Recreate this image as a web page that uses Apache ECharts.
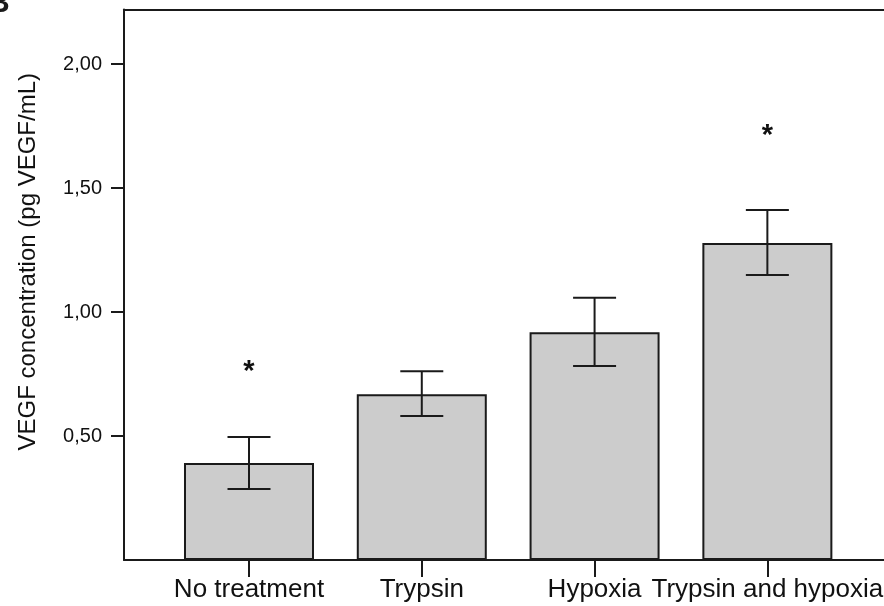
<!DOCTYPE html>
<html>
<head>
<meta charset="utf-8">
<script src="https://cdn.jsdelivr.net/npm/echarts@6/dist/echarts.min.js"></script>
<style>html,body{margin:0;padding:0;background:#fff;}#c{width:884px;height:606px;}</style>
</head>
<body>
<div id="c"></div>
<script>
const categories = ['No treatment', 'Trypsin', 'Hypoxia', 'Trypsin and hypoxia'];
const means = [0.391, 0.668, 0.918, 1.278];
const errLow = [0.286, 0.581, 0.782, 1.149];
const errHigh = [0.496, 0.761, 1.058, 1.411];
const starLevel = [0.779, null, null, 1.730];
const yTicks = [0.5, 1.0, 1.5, 2.0];
const yLabel = 'VEGF concentration (pg VEGF/mL)';

const ink = '#1a1a1a';
const catIdx = categories.map((c, i) => i);
const xMin = -0.7234, xMax = 3.675;

const chart = echarts.init(document.getElementById('c'), null, {renderer: 'canvas'});
chart.setOption({
  animation: false,
  backgroundColor: '#fff',
  title: {
    text: 'B', left: -17, top: -16,
    textStyle: {fontFamily: 'Liberation Sans, Arial, sans-serif', fontSize: 30, fontWeight: 'bold', color: ink}
  },
  grid: {
    left: 124, top: 9.5, right: 0, bottom: 46, show: false,
    outerBoundsMode: 'none', containLabel: false
  },
  xAxis: [{
    type: 'value', min: xMin, max: xMax,
    splitLine: {show: false},
    axisLine: {show: true, onZero: false, lineStyle: {color: ink, width: 2}},
    axisTick: {show: true, customValues: catIdx, length: 17, lineStyle: {color: ink, width: 2}},
    axisLabel: {
      customValues: catIdx,
      formatter: v => categories[Math.round(v)] || '',
      fontFamily: 'Liberation Sans, Arial, sans-serif', fontSize: 26, color: '#111', margin: 17
    }
  }, {
    type: 'value', min: xMin, max: xMax, position: 'top',
    splitLine: {show: false},
    axisLine: {show: true, onZero: false, lineStyle: {color: ink, width: 2}},
    axisTick: {show: false}, axisLabel: {show: false}
  }],
  yAxis: {
    type: 'value', min: 0, max: 2.22,
    name: yLabel, nameLocation: 'middle', nameGap: 84,
    nameTextStyle: {fontFamily: 'Liberation Sans, Arial, sans-serif', fontSize: 24, color: '#111', padding: [0, 0, 0, 46]},
    splitLine: {show: false},
    axisLine: {show: true, onZero: false, lineStyle: {color: ink, width: 2}},
    axisTick: {show: true, customValues: yTicks, length: 13, lineStyle: {color: ink, width: 2}},
    axisLabel: {
      customValues: yTicks,
      formatter: v => v.toFixed(2).replace('.', ','),
      fontFamily: 'Liberation Sans, Arial, sans-serif', fontSize: 20, color: '#111', margin: 22
    }
  },
  series: [
    {
      type: 'bar',
      data: means.map((m, i) => [i, m]),
      barWidth: 130,
      itemStyle: {color: '#cccccc', borderColor: ink, borderWidth: 2}
    },
    {
      type: 'custom',
      data: catIdx.map(i => [i, errLow[i], errHigh[i]]),
      renderItem: function (params, api) {
        const x = api.value(0);
        const lo = api.coord([x, api.value(1)]);
        const hi = api.coord([x, api.value(2)]);
        const hw = 21.5;
        const style = {stroke: ink, lineWidth: 2};
        return {
          type: 'group',
          children: [
            {type: 'line', shape: {x1: lo[0], y1: lo[1], x2: hi[0], y2: hi[1]}, style},
            {type: 'line', shape: {x1: hi[0] - hw, y1: hi[1], x2: hi[0] + hw, y2: hi[1]}, style},
            {type: 'line', shape: {x1: lo[0] - hw, y1: lo[1], x2: lo[0] + hw, y2: lo[1]}, style}
          ]
        };
      },
      z: 5
    },
    {
      type: 'custom',
      data: catIdx.filter(i => starLevel[i] != null).map(i => [i, starLevel[i]]),
      renderItem: function (params, api) {
        const p = api.coord([api.value(0), api.value(1)]);
        return {
          type: 'text',
          x: p[0], y: p[1] + 5,
          style: {text: '*', fontSize: 29, fontWeight: 'bold', fontFamily: 'Liberation Sans, Arial, sans-serif',
                  fill: '#111', align: 'center', verticalAlign: 'middle'}
        };
      },
      z: 6
    }
  ]
});
</script>
</body>
</html>
